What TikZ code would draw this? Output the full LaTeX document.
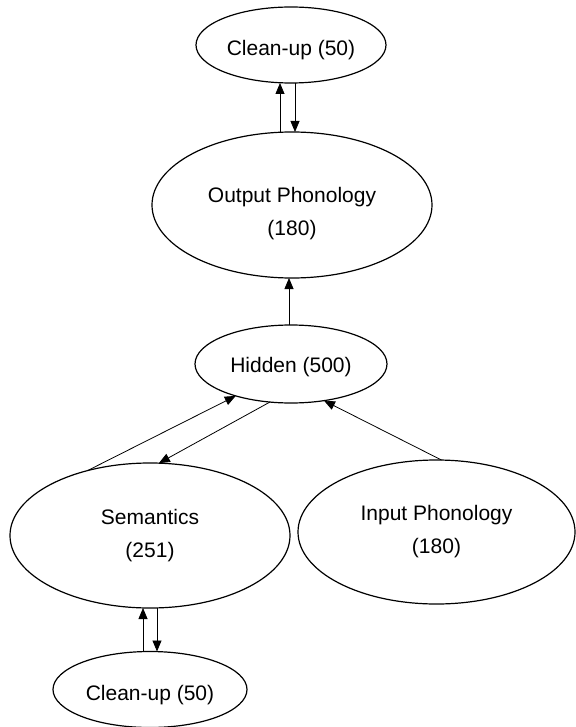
\documentclass[tikz,border=0pt]{standalone}
\usepackage{fontspec}
\setmainfont{Liberation Sans}
\usetikzlibrary{shapes.geometric,arrows.meta}
\begin{document}
\begin{tikzpicture}[x=1pt,y=-1pt,
  layer/.style={draw, ellipse, line width=1.2pt, inner sep=0pt, outer sep=0pt, align=center,
    font=\fontsize{21}{33}\selectfont},
  arr/.style={-{Triangle[length=11pt,width=9pt]}, line width=0.8pt}]
\useasboundingbox (0,0) rectangle (575,727);
\node[layer, minimum width=190pt, minimum height=76pt] (cu1) at (291,45) {\raisebox{-11pt}[0pt][0pt]{Clean-up (50)}};
\node[layer, minimum width=280pt, minimum height=146pt] (out) at (292,205) {\raisebox{-13pt}[0pt][0pt]{\begin{tabular}{@{}c@{}}Output Phonology\\(180)\end{tabular}}};
\node[layer, minimum width=192pt, minimum height=78pt] (hid) at (291,364) {\raisebox{-8.5pt}[0pt][0pt]{Hidden (500)}};
\node[layer, minimum width=280pt, minimum height=145pt] (sem) at (150,535.5) {Semantics\\(251)};
\node[layer, minimum width=277pt, minimum height=144pt] (inp) at (436.5,532) {Input Phonology\\(180)};
\node[layer, minimum width=194pt, minimum height=76pt] (cu2) at (150,689.5) {\raisebox{-11pt}[0pt][0pt]{Clean-up (50)}};
% top pair
\draw[arr] ([xshift=-12pt]out.north) -- ([xshift=-11pt]cu1.south);
\draw[arr] ([xshift=4pt]cu1.south) -- ([xshift=3pt]out.north);
% hidden to output
\draw[arr] ([xshift=-2pt]hid.north) -- ([xshift=-3pt]out.south);
% diagonals
\draw[arr] (sem.134) -- (hid.210);
\draw[arr] (hid.241) -- (sem.83);
\draw[arr] (inp.86) -- (hid.312);
% bottom pair
\draw[arr] ([xshift=-7pt]cu2.north) -- ([xshift=-7pt]sem.south);
\draw[arr] ([xshift=7pt]sem.south) -- ([xshift=7pt]cu2.north);
\end{tikzpicture}
\end{document}
